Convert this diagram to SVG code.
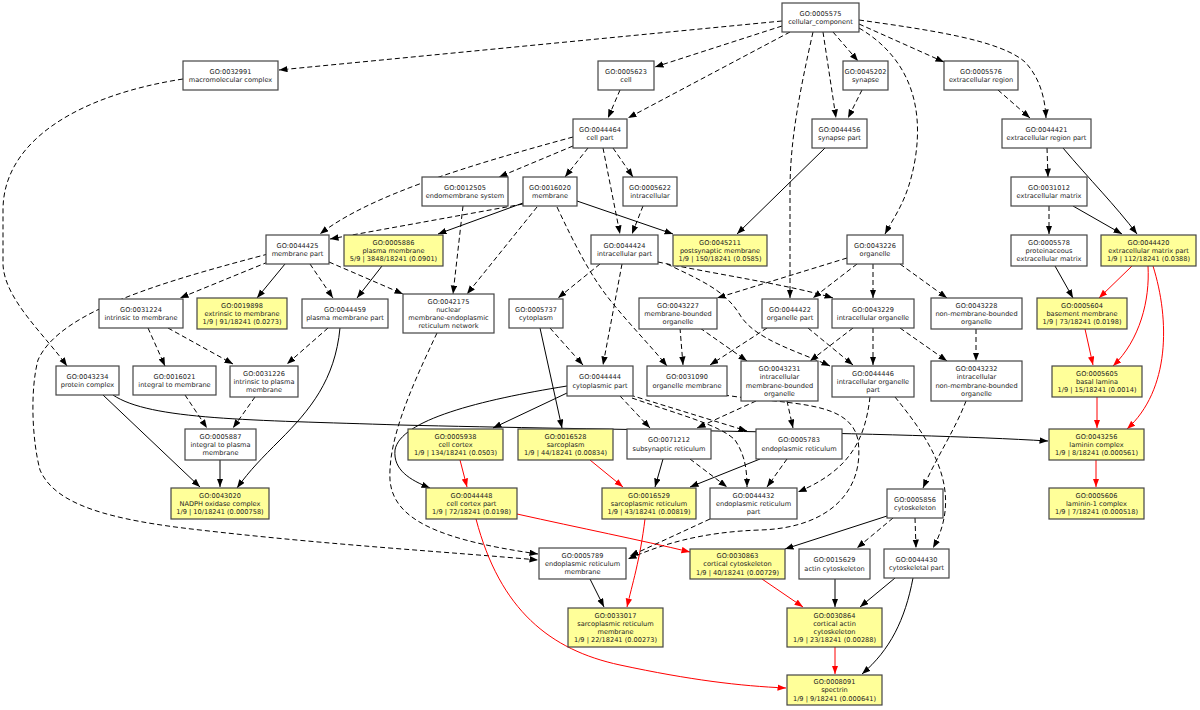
<svg xmlns="http://www.w3.org/2000/svg" width="1200" height="710" viewBox="0 0 1200 710">
<defs>
<marker id="ab" markerWidth="9" markerHeight="7" refX="8.5" refY="3.2" orient="auto" markerUnits="userSpaceOnUse"><path d="M0,0 L8.5,3.2 L0,6.4 z" fill="#000"/></marker>
<marker id="ar" markerWidth="9" markerHeight="7" refX="8.5" refY="3.2" orient="auto" markerUnits="userSpaceOnUse"><path d="M0,0 L8.5,3.2 L0,6.4 z" fill="#f00"/></marker>
<style>
rect{fill:#fff;stroke:#444;stroke-width:1.2}
rect.y{fill:#ffff99}
text{font-family:"DejaVu Sans",sans-serif;font-size:6.6px;fill:#222;text-anchor:middle}
#edges path{fill:none;stroke-width:1}
.d{stroke:#000;stroke-dasharray:5,3;marker-end:url(#ab)}
.s{stroke:#000;marker-end:url(#ab)}
.r{stroke:#f00;marker-end:url(#ar)}
</style>
</defs>
<rect x="0" y="0" width="1200" height="710" style="fill:#fff;stroke:none"/>
<g id="edges">
<path class="d" d="M782,21 L279,70"/>
<path class="d" d="M782,26 L655,67"/>
<path class="d" d="M790,32 L628,118"/>
<path class="d" d="M833,32 L858,61"/>
<path class="d" d="M823,32 L836,118"/>
<path class="d" d="M813,32 C800,90 790,140 790,190 L790,298"/>
<path class="d" d="M859,28 C905,55 925,100 915,160 C908,200 895,215 885,234"/>
<path class="d" d="M859,24 L944,62"/>
<path class="d" d="M859,20 C930,30 1000,40 1025,62 C1040,78 1045,98 1046,118"/>
<path class="d" d="M183,79 C80,95 3,140 3,210 L3,265 C5,300 45,335 67,366"/>
<path class="d" d="M620,90 L608,118"/>
<path class="d" d="M573,137 C470,165 370,195 320,234"/>
<path class="d" d="M573,146 L499,177"/>
<path class="d" d="M588,148 L565,177"/>
<path class="d" d="M603,148 L620,234"/>
<path class="d" d="M613,148 L633,177"/>
<path class="d" d="M643,206 L632,234"/>
<path class="d" d="M862,90 L848,118"/>
<path class="s" d="M825,148 L737,234"/>
<path class="d" d="M998,90 L1030,118"/>
<path class="d" d="M1047,148 L1048,177"/>
<path class="s" d="M1063,148 C1090,180 1115,205 1137,234"/>
<path class="d" d="M1049,206 L1049,234"/>
<path class="s" d="M1073,206 L1122,234"/>
<path class="d" d="M523,204 L330,239"/>
<path class="s" d="M523,203 L438,234"/>
<path class="d" d="M537,207 L467,294"/>
<path class="d" d="M557,207 C575,245 590,275 610,300 C630,325 650,345 667,366"/>
<path class="s" d="M577,201 L673,234"/>
<path class="d" d="M463,206 L453,294"/>
<path class="d" d="M268,262 L180,298"/>
<path class="s" d="M285,264 L257,298"/>
<path class="d" d="M310,264 L333,298"/>
<path class="d" d="M329,262 L403,294"/>
<path class="d" d="M268,254 C170,280 60,310 38,360 C30,390 32,440 40,470 C55,505 110,520 200,530 C330,545 450,552 538,560"/>
<path class="s" d="M382,266 L357,298"/>
<path class="d" d="M600,264 L558,298"/>
<path class="d" d="M622,264 L603,365"/>
<path class="d" d="M658,262 C720,275 790,285 833,298"/>
<path class="d" d="M667,264 C700,280 725,290 740,315 C755,340 800,352 830,366"/>
<path class="d" d="M847,258 L717,298"/>
<path class="d" d="M857,264 L813,298"/>
<path class="d" d="M873,264 L873,298"/>
<path class="d" d="M900,264 L947,298"/>
<path class="s" d="M1055,266 L1073,298"/>
<path class="r" d="M1132,266 L1099,298"/>
<path class="r" d="M1148,266 C1150,300 1140,340 1113,366"/>
<path class="r" d="M1153,266 C1170,320 1170,390 1127,429"/>
<path class="d" d="M148,328 L165,366"/>
<path class="d" d="M168,328 L233,364"/>
<path class="d" d="M328,328 L287,364"/>
<path class="s" d="M340,328 C335,380 310,410 280,440 C262,458 250,470 237,488"/>
<path class="d" d="M437,333 C410,390 388,440 390,480 C393,520 440,540 538,554"/>
<path class="d" d="M550,328 L583,365"/>
<path class="s" d="M540,328 L562,428"/>
<path class="d" d="M680,328 L683,365"/>
<path class="d" d="M700,328 L747,361"/>
<path class="d" d="M767,328 L710,365"/>
<path class="d" d="M808,328 L853,365"/>
<path class="d" d="M853,328 L810,361"/>
<path class="d" d="M873,328 L873,365"/>
<path class="d" d="M900,328 L947,361"/>
<path class="d" d="M976,329 L976,361"/>
<path class="r" d="M1085,329 L1093,365"/>
<path class="s" d="M103,395 L200,487"/>
<path class="s" d="M113,395 C150,420 250,420 400,425 C600,430 900,432 1048,441"/>
<path class="d" d="M185,395 L207,428"/>
<path class="d" d="M255,397 L233,428"/>
<path class="s" d="M567,393 L493,428"/>
<path class="s" d="M567,386 C480,400 400,420 395,450 C393,470 410,480 430,488"/>
<path class="d" d="M620,396 L650,428"/>
<path class="d" d="M630,395 L747,431"/>
<path class="d" d="M632,398 C680,415 720,425 735,440 C745,455 747,470 747,487"/>
<path class="d" d="M724,395 C790,405 850,400 858,440 C865,490 830,528 760,530 C700,532 660,545 628,559"/>
<path class="d" d="M870,397 C865,440 850,470 798,492"/>
<path class="d" d="M756,401 L697,428"/>
<path class="d" d="M787,401 L793,428"/>
<path class="d" d="M895,397 C930,440 965,490 933,548"/>
<path class="d" d="M966,401 C955,430 935,460 923,488"/>
<path class="r" d="M1097,397 L1097,428"/>
<path class="r" d="M1096,460 L1096,487"/>
<path class="s" d="M220,460 L220,487"/>
<path class="r" d="M460,460 L467,487"/>
<path class="r" d="M590,460 L623,487"/>
<path class="s" d="M663,459 L655,487"/>
<path class="d" d="M690,459 L727,487"/>
<path class="s" d="M760,459 L690,487"/>
<path class="d" d="M787,459 L767,487"/>
<path class="r" d="M517,514 C580,528 640,540 690,552"/>
<path class="r" d="M476,519 C500,610 550,650 620,665 C690,680 740,686 786,688"/>
<path class="r" d="M645,519 C640,560 632,585 627,607"/>
<path class="d" d="M710,519 L630,556"/>
<path class="d" d="M915,518 L916,548"/>
<path class="d" d="M893,518 L857,548"/>
<path class="s" d="M887,516 L785,549"/>
<path class="s" d="M590,579 L604,607"/>
<path class="r" d="M762,579 L803,607"/>
<path class="s" d="M835,579 L835,607"/>
<path class="s" d="M895,578 L860,607"/>
<path class="s" d="M913,578 C905,620 890,650 862,674"/>
<path class="r" d="M835,647 L835,674"/>
</g>
<g id="n0005575"><rect x="782" y="3" width="77" height="29"/><text><tspan x="820.5" y="15.8">GO:0005575</tspan><tspan x="820.5" y="24">cellular_component</tspan></text></g>
<g id="n0032991"><rect x="183" y="61" width="95" height="29"/><text><tspan x="230.5" y="73.8">GO:0032991</tspan><tspan x="230.5" y="82">macromolecular complex</tspan></text></g>
<g id="n0005623"><rect x="598" y="61" width="56" height="29"/><text><tspan x="626" y="73.8">GO:0005623</tspan><tspan x="626" y="82">cell</tspan></text></g>
<g id="n0045202"><rect x="843" y="61" width="45" height="29"/><text><tspan x="865.5" y="73.8">GO:0045202</tspan><tspan x="865.5" y="82">synapse</tspan></text></g>
<g id="n0005576"><rect x="944" y="61" width="74" height="29"/><text><tspan x="981" y="73.8">GO:0005576</tspan><tspan x="981" y="82">extracellular region</tspan></text></g>
<g id="n0044464"><rect x="573" y="119" width="54" height="29"/><text><tspan x="600" y="131.8">GO:0044464</tspan><tspan x="600" y="140">cell part</tspan></text></g>
<g id="n0044456"><rect x="812" y="119" width="55" height="29"/><text><tspan x="839.5" y="131.8">GO:0044456</tspan><tspan x="839.5" y="140">synapse part</tspan></text></g>
<g id="n0044421"><rect x="1002" y="119" width="89" height="29"/><text><tspan x="1046.5" y="131.8">GO:0044421</tspan><tspan x="1046.5" y="140">extracellular region part</tspan></text></g>
<g id="n0012505"><rect x="422" y="177" width="86" height="29"/><text><tspan x="465" y="189.8">GO:0012505</tspan><tspan x="465" y="198">endomembrane system</tspan></text></g>
<g id="n0016020"><rect x="523" y="177" width="54" height="29"/><text><tspan x="550" y="189.8">GO:0016020</tspan><tspan x="550" y="198">membrane</tspan></text></g>
<g id="n0005622"><rect x="623" y="177" width="54" height="29"/><text><tspan x="650" y="189.8">GO:0005622</tspan><tspan x="650" y="198">intracellular</tspan></text></g>
<g id="n0031012"><rect x="1011" y="177" width="76" height="29"/><text><tspan x="1049" y="189.8">GO:0031012</tspan><tspan x="1049" y="198">extracellular matrix</tspan></text></g>
<g id="n0044425"><rect x="266" y="235" width="63" height="29"/><text><tspan x="297.5" y="247.8">GO:0044425</tspan><tspan x="297.5" y="256">membrane part</tspan></text></g>
<g id="n0005886"><rect class="y" x="344" y="235" width="99" height="31"/><text><tspan x="393.5" y="244.7">GO:0005886</tspan><tspan x="393.5" y="252.9">plasma membrane</tspan><tspan x="393.5" y="261.1">5/9 | 3848/18241 (0.0901)</tspan></text></g>
<g id="n0044424"><rect x="591" y="235" width="67" height="29"/><text><tspan x="624.5" y="247.8">GO:0044424</tspan><tspan x="624.5" y="256">intracellular part</tspan></text></g>
<g id="n0045211"><rect class="y" x="673" y="235" width="94" height="31"/><text><tspan x="720" y="244.7">GO:0045211</tspan><tspan x="720" y="252.9">postsynaptic membrane</tspan><tspan x="720" y="261.1">1/9 | 150/18241 (0.0585)</tspan></text></g>
<g id="n0043226"><rect x="847" y="235" width="56" height="29"/><text><tspan x="875" y="247.8">GO:0043226</tspan><tspan x="875" y="256">organelle</tspan></text></g>
<g id="n0005578"><rect x="1011" y="235" width="76" height="31"/><text><tspan x="1049" y="244.7">GO:0005578</tspan><tspan x="1049" y="252.9">proteinaceous</tspan><tspan x="1049" y="261.1">extracellular matrix</tspan></text></g>
<g id="n0044420"><rect class="y" x="1101" y="235" width="95" height="31"/><text><tspan x="1148.5" y="244.7">GO:0044420</tspan><tspan x="1148.5" y="252.9">extracellular matrix part</tspan><tspan x="1148.5" y="261.1">1/9 | 112/18241 (0.0388)</tspan></text></g>
<g id="n0031224"><rect x="99" y="299" width="84" height="29"/><text><tspan x="141" y="311.8">GO:0031224</tspan><tspan x="141" y="320">intrinsic to membrane</tspan></text></g>
<g id="n0019898"><rect class="y" x="197" y="298" width="90" height="31"/><text><tspan x="242" y="307.7">GO:0019898</tspan><tspan x="242" y="315.9">extrinsic to membrane</tspan><tspan x="242" y="324.1">1/9 | 91/18241 (0.0273)</tspan></text></g>
<g id="n0044459"><rect x="302" y="299" width="86" height="29"/><text><tspan x="345" y="311.8">GO:0044459</tspan><tspan x="345" y="320">plasma membrane part</tspan></text></g>
<g id="n0042175"><rect x="403" y="294" width="91" height="39"/><text><tspan x="448.5" y="303.6">GO:0042175</tspan><tspan x="448.5" y="311.8">nuclear</tspan><tspan x="448.5" y="320">membrane-endoplasmic</tspan><tspan x="448.5" y="328.2">reticulum network</tspan></text></g>
<g id="n0005737"><rect x="509" y="299" width="54" height="29"/><text><tspan x="536" y="311.8">GO:0005737</tspan><tspan x="536" y="320">cytoplasm</tspan></text></g>
<g id="n0043227"><rect x="639" y="298" width="78" height="31"/><text><tspan x="678" y="307.7">GO:0043227</tspan><tspan x="678" y="315.9">membrane-bounded</tspan><tspan x="678" y="324.1">organelle</tspan></text></g>
<g id="n0044422"><rect x="762" y="299" width="56" height="29"/><text><tspan x="790" y="311.8">GO:0044422</tspan><tspan x="790" y="320">organelle part</tspan></text></g>
<g id="n0043229"><rect x="832" y="299" width="82" height="29"/><text><tspan x="873" y="311.8">GO:0043229</tspan><tspan x="873" y="320">intracellular organelle</tspan></text></g>
<g id="n0043228"><rect x="931" y="298" width="91" height="31"/><text><tspan x="976.5" y="307.7">GO:0043228</tspan><tspan x="976.5" y="315.9">non-membrane-bounded</tspan><tspan x="976.5" y="324.1">organelle</tspan></text></g>
<g id="n0005604"><rect class="y" x="1037" y="298" width="90" height="31"/><text><tspan x="1082" y="307.7">GO:0005604</tspan><tspan x="1082" y="315.9">basement membrane</tspan><tspan x="1082" y="324.1">1/9 | 73/18241 (0.0198)</tspan></text></g>
<g id="n0043234"><rect x="56" y="366" width="63" height="29"/><text><tspan x="87.5" y="378.8">GO:0043234</tspan><tspan x="87.5" y="387">protein complex</tspan></text></g>
<g id="n0016021"><rect x="133" y="366" width="83" height="29"/><text><tspan x="174.5" y="378.8">GO:0016021</tspan><tspan x="174.5" y="387">integral to membrane</tspan></text></g>
<g id="n0031226"><rect x="230" y="366" width="68" height="31"/><text><tspan x="264" y="375.7">GO:0031226</tspan><tspan x="264" y="383.9">intrinsic to plasma</tspan><tspan x="264" y="392.1">membrane</tspan></text></g>
<g id="n0044444"><rect x="567" y="366" width="66" height="30"/><text><tspan x="600" y="379.3">GO:0044444</tspan><tspan x="600" y="387.5">cytoplasmic part</tspan></text></g>
<g id="n0031090"><rect x="647" y="366" width="80" height="30"/><text><tspan x="687" y="379.3">GO:0031090</tspan><tspan x="687" y="387.5">organelle membrane</tspan></text></g>
<g id="n0043231"><rect x="741" y="361" width="77" height="40"/><text><tspan x="779.5" y="371.1">GO:0043231</tspan><tspan x="779.5" y="379.3">intracellular</tspan><tspan x="779.5" y="387.5">membrane-bounded</tspan><tspan x="779.5" y="395.7">organelle</tspan></text></g>
<g id="n0044446"><rect x="832" y="366" width="82" height="31"/><text><tspan x="873" y="375.7">GO:0044446</tspan><tspan x="873" y="383.9">intracellular organelle</tspan><tspan x="873" y="392.1">part</tspan></text></g>
<g id="n0043232"><rect x="931" y="361" width="91" height="40"/><text><tspan x="976.5" y="371.1">GO:0043232</tspan><tspan x="976.5" y="379.3">intracellular</tspan><tspan x="976.5" y="387.5">non-membrane-bounded</tspan><tspan x="976.5" y="395.7">organelle</tspan></text></g>
<g id="n0005605"><rect class="y" x="1052" y="366" width="90" height="31"/><text><tspan x="1097" y="375.7">GO:0005605</tspan><tspan x="1097" y="383.9">basal lamina</tspan><tspan x="1097" y="392.1">1/9 | 15/18241 (0.0014)</tspan></text></g>
<g id="n0005887"><rect x="185" y="429" width="71" height="31"/><text><tspan x="220.5" y="438.7">GO:0005887</tspan><tspan x="220.5" y="446.9">integral to plasma</tspan><tspan x="220.5" y="455.1">membrane</tspan></text></g>
<g id="n0005938"><rect class="y" x="408" y="429" width="95" height="31"/><text><tspan x="455.5" y="438.7">GO:0005938</tspan><tspan x="455.5" y="446.9">cell cortex</tspan><tspan x="455.5" y="455.1">1/9 | 134/18241 (0.0503)</tspan></text></g>
<g id="n0016528"><rect class="y" x="518" y="429" width="95" height="31"/><text><tspan x="565.5" y="438.7">GO:0016528</tspan><tspan x="565.5" y="446.9">sarcoplasm</tspan><tspan x="565.5" y="455.1">1/9 | 44/18241 (0.00834)</tspan></text></g>
<g id="n0071212"><rect x="627" y="429" width="84" height="30"/><text><tspan x="669" y="442.3">GO:0071212</tspan><tspan x="669" y="450.5">subsynaptic reticulum</tspan></text></g>
<g id="n0005783"><rect x="756" y="429" width="86" height="30"/><text><tspan x="799" y="442.3">GO:0005783</tspan><tspan x="799" y="450.5">endoplasmic reticulum</tspan></text></g>
<g id="n0043256"><rect class="y" x="1049" y="429" width="95" height="31"/><text><tspan x="1096.5" y="438.7">GO:0043256</tspan><tspan x="1096.5" y="446.9">laminin complex</tspan><tspan x="1096.5" y="455.1">1/9 | 8/18241 (0.000561)</tspan></text></g>
<g id="n0043020"><rect class="y" x="171" y="488" width="98" height="31"/><text><tspan x="220" y="497.7">GO:0043020</tspan><tspan x="220" y="505.9">NADPH oxidase complex</tspan><tspan x="220" y="514.1">1/9 | 10/18241 (0.000758)</tspan></text></g>
<g id="n0044448"><rect class="y" x="426" y="488" width="91" height="31"/><text><tspan x="471.5" y="497.7">GO:0044448</tspan><tspan x="471.5" y="505.9">cell cortex part</tspan><tspan x="471.5" y="514.1">1/9 | 72/18241 (0.0198)</tspan></text></g>
<g id="n0016529"><rect class="y" x="602" y="488" width="94" height="31"/><text><tspan x="649" y="497.7">GO:0016529</tspan><tspan x="649" y="505.9">sarcoplasmic reticulum</tspan><tspan x="649" y="514.1">1/9 | 43/18241 (0.00819)</tspan></text></g>
<g id="n0044432"><rect x="710" y="488" width="87" height="31"/><text><tspan x="753.5" y="497.7">GO:0044432</tspan><tspan x="753.5" y="505.9">endoplasmic reticulum</tspan><tspan x="753.5" y="514.1">part</tspan></text></g>
<g id="n0005856"><rect x="887" y="489" width="56" height="29"/><text><tspan x="915" y="501.8">GO:0005856</tspan><tspan x="915" y="510">cytoskeleton</tspan></text></g>
<g id="n0005606"><rect class="y" x="1049" y="488" width="95" height="31"/><text><tspan x="1096.5" y="497.7">GO:0005606</tspan><tspan x="1096.5" y="505.9">laminin-1 complex</tspan><tspan x="1096.5" y="514.1">1/9 | 7/18241 (0.000518)</tspan></text></g>
<g id="n0005789"><rect x="539" y="548" width="87" height="31"/><text><tspan x="582.5" y="557.7">GO:0005789</tspan><tspan x="582.5" y="565.9">endoplasmic reticulum</tspan><tspan x="582.5" y="574.1">membrane</tspan></text></g>
<g id="n0030863"><rect class="y" x="690" y="549" width="95" height="30"/><text><tspan x="737.5" y="558.2">GO:0030863</tspan><tspan x="737.5" y="566.4">cortical cytoskeleton</tspan><tspan x="737.5" y="574.6">1/9 | 40/18241 (0.00729)</tspan></text></g>
<g id="n0015629"><rect x="799" y="549" width="71" height="30"/><text><tspan x="834.5" y="562.3">GO:0015629</tspan><tspan x="834.5" y="570.5">actin cytoskeleton</tspan></text></g>
<g id="n0044430"><rect x="884" y="549" width="65" height="29"/><text><tspan x="916.5" y="561.8">GO:0044430</tspan><tspan x="916.5" y="570">cytoskeletal part</tspan></text></g>
<g id="n0033017"><rect class="y" x="568" y="608" width="95" height="39"/><text><tspan x="615.5" y="617.6">GO:0033017</tspan><tspan x="615.5" y="625.8">sarcoplasmic reticulum</tspan><tspan x="615.5" y="634">membrane</tspan><tspan x="615.5" y="642.2">1/9 | 22/18241 (0.00273)</tspan></text></g>
<g id="n0030864"><rect class="y" x="787" y="608" width="95" height="39"/><text><tspan x="834.5" y="617.6">GO:0030864</tspan><tspan x="834.5" y="625.8">cortical actin</tspan><tspan x="834.5" y="634">cytoskeleton</tspan><tspan x="834.5" y="642.2">1/9 | 23/18241 (0.00288)</tspan></text></g>
<g id="n0008091"><rect class="y" x="787" y="675" width="95" height="30"/><text><tspan x="834.5" y="684.2">GO:0008091</tspan><tspan x="834.5" y="692.4">spectrin</tspan><tspan x="834.5" y="700.6">1/9 | 9/18241 (0.000641)</tspan></text></g>
</svg>
